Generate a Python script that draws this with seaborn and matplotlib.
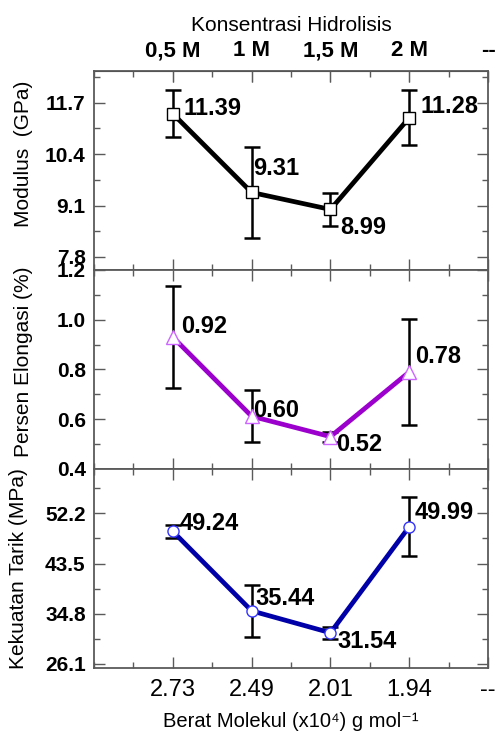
import matplotlib.pyplot as plt
import seaborn as sns
from matplotlib.ticker import AutoMinorLocator, MultipleLocator

# Data
positions = [1, 2, 3, 4]
tick_positions = [1, 2, 3, 4, 5]
mw_labels = ["2.73", "2.49", "2.01", "1.94", "--"]
conc_labels = ["0,5 M", "1 M", "1,5 M", "2 M", "--"]

modulus = [11.42, 9.43, 9.00, 11.32]
modulus_err = [0.60, 1.14, 0.42, 0.70]
modulus_text = ["11.39", "9.31", "8.99", "11.28"]

elongation = [0.93, 0.612, 0.53, 0.79]
elongation_err = [0.206, 0.104, 0.02, 0.214]
elongation_text = ["0.92", "0.60", "0.52", "0.78"]

tensile = [49.07, 35.3, 31.5, 49.9]
tensile_err = [1.2, 4.5, 1.0, 5.1]
tensile_text = ["49.24", "35.44", "31.54", "49.99"]

sns.set_style("ticks")
plt.rcParams["font.family"] = ["Liberation Sans", "DejaVu Sans"]
plt.rcParams["text.color"] = "black"
plt.rcParams["axes.labelcolor"] = "black"

fig, axes = plt.subplots(3, 1, figsize=(4.95, 7.35), dpi=100, sharex=True)
fig.subplots_adjust(left=0.19, right=0.986, top=0.9034, bottom=0.0912, hspace=0)

panels = [
    dict(y=modulus, err=modulus_err, text=modulus_text, color="black",
         marker="s", ms=8, mec="black", ylim=(7.47, 12.5),
         yticks=[7.8, 9.1, 10.4, 11.7], label="Modulus  (GPa)",
         label_y=0.585, label_x=-0.155,
         offsets=[(8, 4), (1, 17), (7, -13), (8, 8)]),
    dict(y=elongation, err=elongation_err, text=elongation_text, color="#9B00CC",
         marker="^", ms=10, mec="#CC66FF", ylim=(0.4, 1.2),
         yticks=[0.4, 0.6, 0.8, 1.0, 1.2], label="Persen Elongasi (%)",
         label_y=0.54, label_x=-0.155,
         offsets=[(6, 8), (1, 4), (4, -6), (4, 11)]),
    dict(y=tensile, err=tensile_err, text=tensile_text, color="#0000A8",
         marker="o", ms=8, mec="#3333FF", ylim=(25.4, 59.9),
         yticks=[26.1, 34.8, 43.5, 52.2], label="Kekuatan Tarik (MPa)",
         label_y=0.5, label_x=-0.167,
         offsets=[(5, 6), (3, 9), (5, -6), (4, 10)]),
]

frame = "#5a5a5a"
for ax, p in zip(axes, panels):
    ax.errorbar(positions, p["y"], yerr=p["err"], fmt="none", ecolor="black",
                elinewidth=1.8, capsize=6, capthick=1.8, zorder=2)
    sns.lineplot(x=positions, y=p["y"], ax=ax, color=p["color"], lw=3.4,
                 marker=p["marker"], markersize=p["ms"], markerfacecolor="white",
                 markeredgecolor=p["mec"], markeredgewidth=1.0, zorder=3)
    for xi, yi, t, off in zip(positions, p["y"], p["text"], p["offsets"]):
        ax.annotate(t, (xi, yi), xytext=off, textcoords="offset points",
                    ha="left", va="center", fontsize=17, fontweight="bold",
                    color="black")

    ax.set_ylim(*p["ylim"])
    ax.set_yticks(p["yticks"])
    ax.set_yticklabels([f"{v:.1f}" for v in p["yticks"]],
                       fontsize=15, fontweight="bold")
    ax.yaxis.set_minor_locator(AutoMinorLocator(2))
    ax.set_ylabel(p["label"], fontsize=15)
    ax.yaxis.set_label_coords(p["label_x"], p["label_y"])

    ax.set_xlim(0, 5)
    ax.set_xticks(tick_positions)
    ax.xaxis.set_minor_locator(MultipleLocator(0.5))
    ax.tick_params(which="both", direction="in", top=True, right=True,
                   color=frame, width=1.0, labelcolor="black")
    ax.tick_params(which="major", length=8, pad=6)
    ax.tick_params(which="minor", length=4)
    for s in ax.spines.values():
        s.set_color(frame)
        s.set_linewidth(1.3)

# Bottom axis: molecular weight
axes[2].set_xticklabels(mw_labels, fontsize=17)
axes[2].tick_params(axis="x", pad=8)
axes[2].set_xlabel("Berat Molekul (x10\u2074) g mol\u207b\u00b9", fontsize=14.5, labelpad=8)

# Top axis: hydrolysis concentration
top = axes[0].secondary_xaxis("top")
top.set_xticks(tick_positions)
top.set_xticklabels(conc_labels, fontsize=16, fontweight="bold")
top.tick_params(direction="in", length=8, color=frame, pad=7, labelcolor="black")
top.set_xlabel("Konsentrasi Hidrolisis", fontsize=15, labelpad=7)

plt.savefig("out.png", dpi=100)
